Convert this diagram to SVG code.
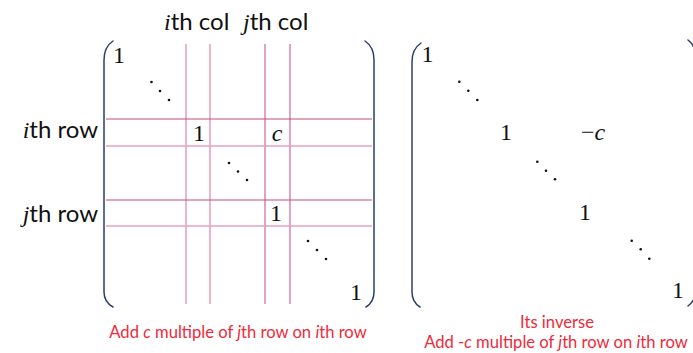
<svg xmlns="http://www.w3.org/2000/svg" width="693" height="353" viewBox="0 0 693 353">
  <style>
    .lbl { font-family: Lato, "Open Sans", "Liberation Sans", sans-serif; font-size: 24px; fill: #111; }
    .it { font-family: "Liberation Serif", "DejaVu Serif", serif; font-style: italic; }
    .ent { font-family: "Liberation Serif", "DejaVu Serif", serif; font-size: 24px; fill: #111; text-anchor: middle; }
    .ent-it { font-family: "Liberation Serif", "DejaVu Serif", serif; font-size: 24px; font-style: italic; fill: #111; text-anchor: middle; }
    .cap { font-family: Lato, "Open Sans", "Liberation Sans", sans-serif; font-size: 16.6px; fill: #ee2a3a; text-anchor: middle; }
    .paren { fill: none; stroke: #2a3f6e; stroke-width: 1.5; stroke-linecap: round; }
    .grid-dark { stroke: #c9467f; stroke-width: 1; }
    .grid-light { stroke: #e6a3bf; stroke-width: 1.6; }
    .dot { fill: #111; }
  </style>

  <!-- Elementary matrix E: row/column labels -->
  <g id="labels">
    <text class="lbl" x="164" y="30"><tspan class="it">i</tspan>th col</text>
    <text class="lbl" x="243" y="30"><tspan class="it">j</tspan>th col</text>
    <text class="lbl" x="98" y="138" text-anchor="end"><tspan class="it">i</tspan>th row</text>
    <text class="lbl" x="98" y="222" text-anchor="end"><tspan class="it">j</tspan>th row</text>
  </g>

  <!-- grid lines marking the i-th and j-th rows and columns -->
  <g id="grid">
    <line class="grid-light" x1="186" y1="44" x2="186" y2="304"/>
    <line class="grid-light" x1="210" y1="44" x2="210" y2="304"/>
    <line class="grid-dark" x1="265" y1="44" x2="265" y2="304"/>
    <line class="grid-dark" x1="290" y1="44" x2="290" y2="304"/>
    <line class="grid-dark" x1="106" y1="119" x2="372" y2="119"/>
    <line class="grid-light" x1="106" y1="146" x2="372" y2="146"/>
    <line class="grid-dark" x1="106" y1="200" x2="372" y2="200"/>
    <line class="grid-light" x1="106" y1="226" x2="372" y2="226"/>
  </g>

  <!-- matrix E -->
  <g id="matrix-e">
    <path class="paren" d="M113,41 Q104,47 104,60 L104,292 Q104,302 113,307"/>
    <path class="paren" d="M365,41 Q374,47 374,60 L374,292 Q374,302 366,307"/>
    <text class="ent" x="119" y="63">1</text>
    <circle class="dot" cx="151.5" cy="82" r="1.3"/>
    <circle class="dot" cx="160" cy="91" r="1.3"/>
    <circle class="dot" cx="169" cy="100" r="1.3"/>
    <text class="ent" x="199" y="141">1</text>
    <text class="ent-it" x="277" y="141">c</text>
    <circle class="dot" cx="229" cy="163" r="1.3"/>
    <circle class="dot" cx="238" cy="171.5" r="1.3"/>
    <circle class="dot" cx="247" cy="180" r="1.3"/>
    <text class="ent" x="276" y="221">1</text>
    <circle class="dot" cx="308" cy="241" r="1.3"/>
    <circle class="dot" cx="317" cy="250" r="1.3"/>
    <circle class="dot" cx="326" cy="259" r="1.3"/>
    <text class="ent" x="356" y="300">1</text>
  </g>

  <!-- inverse matrix -->
  <g id="matrix-inv">
    <path class="paren" d="M421,43 Q412,49 412,62 L412,292 Q412,302 420,307"/>
    <path class="paren" d="M688,40 Q696,46 696,60 L696,290 Q696,300 688,306"/>
    <text class="ent" x="427.5" y="62">1</text>
    <circle class="dot" cx="459.3" cy="81.7" r="1.3"/>
    <circle class="dot" cx="468.3" cy="90.7" r="1.3"/>
    <circle class="dot" cx="477.3" cy="100" r="1.3"/>
    <text class="ent" x="506" y="140">1</text>
    <text class="ent" x="593" y="140">−<tspan font-style="italic">c</tspan></text>
    <circle class="dot" cx="537.3" cy="161.7" r="1.3"/>
    <circle class="dot" cx="546" cy="170.7" r="1.3"/>
    <circle class="dot" cx="555" cy="179.3" r="1.3"/>
    <text class="ent" x="585" y="220">1</text>
    <circle class="dot" cx="631.7" cy="240.7" r="1.3"/>
    <circle class="dot" cx="640.7" cy="249.3" r="1.3"/>
    <circle class="dot" cx="649.3" cy="258.7" r="1.3"/>
    <text class="ent" x="678" y="298">1</text>
  </g>

  <!-- captions -->
  <g id="captions">
    <text class="cap" x="238" y="338">Add <tspan font-style="italic">c</tspan> multiple of <tspan font-style="italic">j</tspan>th row on <tspan font-style="italic">i</tspan>th row</text>
    <text class="cap" x="557" y="328">Its inverse</text>
    <text class="cap" x="556" y="348">Add -<tspan font-style="italic">c</tspan> multiple of <tspan font-style="italic">j</tspan>th row on <tspan font-style="italic">i</tspan>th row</text>
  </g>
</svg>
